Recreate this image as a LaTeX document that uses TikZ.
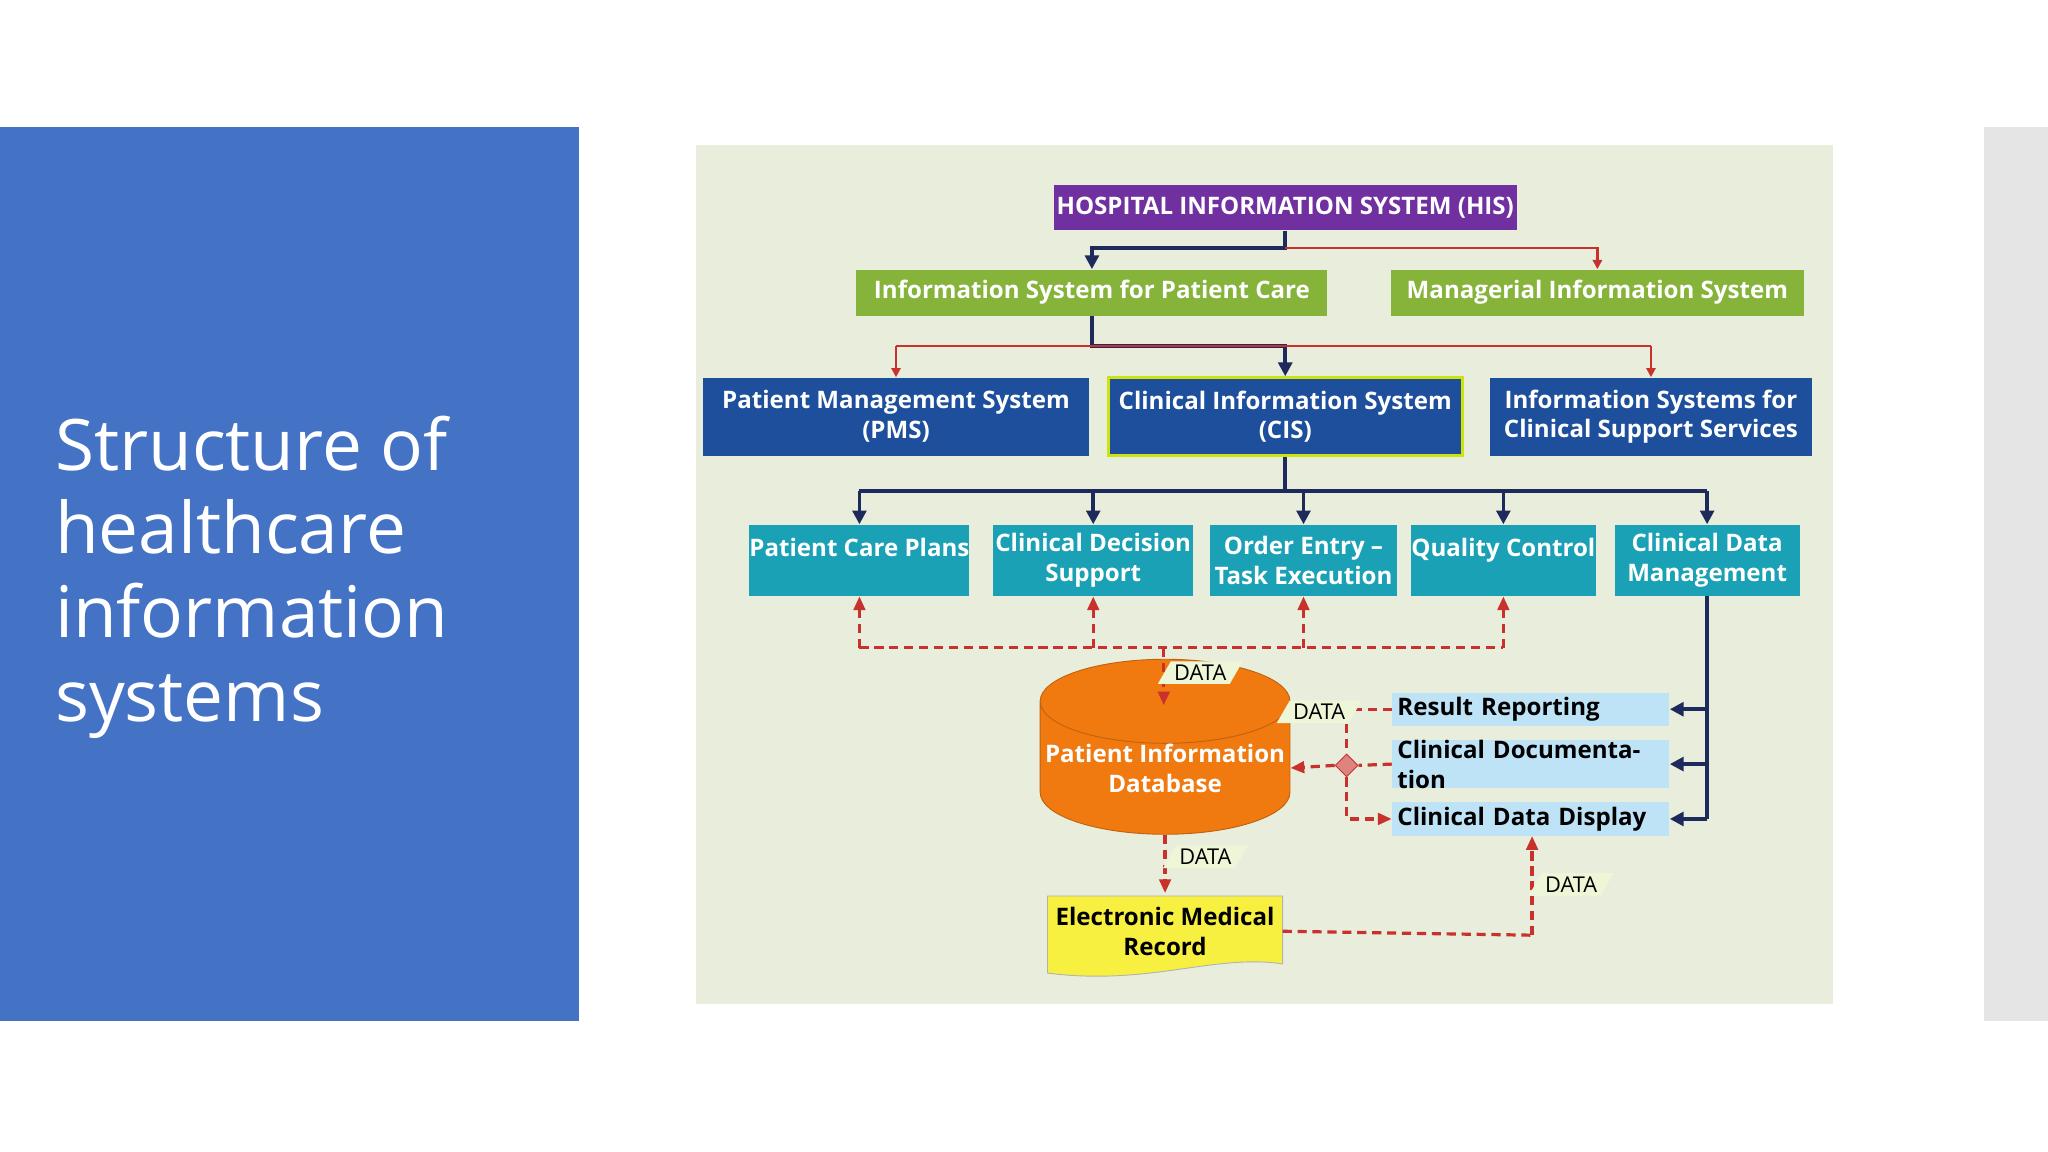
\documentclass[tikz,border=0pt]{standalone}
\usepackage{fontspec}
\setmainfont{Open Sans}
\usetikzlibrary{shapes.geometric,arrows.meta}
\definecolor{panel}{HTML}{4472C4}
\definecolor{diagbg}{HTML}{E8EEDB}
\definecolor{hispurple}{HTML}{7030A0}
\definecolor{isgreen}{HTML}{86B33A}
\definecolor{sysblue}{HTML}{1D4F9C}
\definecolor{modteal}{HTML}{1BA1B5}
\definecolor{outblue}{HTML}{BEE2F6}
\definecolor{navyln}{HTML}{1F2A5C}
\definecolor{redln}{HTML}{C8312C}
\definecolor{dborange}{HTML}{F07A10}
\definecolor{emryellow}{HTML}{F8F040}
\definecolor{datagreen}{HTML}{EEF6D8}
\tikzset{
  box/.style={draw=none,minimum width=#1,minimum height=0,inner sep=0pt,text=white,
    font=\fontsize{10.5}{13}\selectfont\bfseries,align=center},
  his/.style={box=#1,fill=hispurple,minimum height=19.5},
  isb/.style={box=#1,fill=isgreen,minimum height=20},
  sys/.style={box=#1,fill=sysblue,minimum height=34},
  mod/.style={box=#1,fill=modteal,minimum height=31},
  out/.style={box=#1,fill=outblue,text=black,minimum height=14.5},
  blk/.style={navyln,line width=1.6pt,-{Triangle[length=6pt,width=6pt]}},
  blkn/.style={navyln,line width=1.6pt},
  rd/.style={redln,line width=1pt,-{Triangle[length=4pt,width=4pt]}},
  rdn/.style={redln,line width=1pt},
  rdd/.style={redln,line width=1.4pt,dashed,dash pattern=on 4pt off 2.5pt},
  rda/.style={rdd,-{Triangle[length=6pt,width=5pt]}},
  datal/.style={trapezium,trapezium left angle=60,trapezium right angle=120,fill=datagreen,
    inner sep=1.5pt,font=\fontsize{9.5}{11}\selectfont,text=black}
}
\begin{document}
\begin{tikzpicture}[x=0.02cm,y=-0.02cm]
\useasboundingbox (0,0) rectangle (1568,882);
\fill[white] (0,0) rectangle (1568,882);
\fill[panel] (0,97) rectangle (443,782);
\fill[black!10] (1519,97) rectangle (1568,782);
\node[anchor=north west,text=white,align=left,font=\fontsize{31}{36.5}\selectfont] (title) at (36,312)
  {Structure of\\healthcare\\information\\systems};
\fill[diagbg] (533,111) rectangle (1403,769);

% boxes
\node[his=356*0.567pt] (his) at (984,159) {HOSPITAL INFORMATION SYSTEM (HIS)};
\node[isb=362*0.567pt] (ispc) at (836,224) {Information System for Patient Care};
\node[isb=317*0.567pt] (mis) at (1223,224) {Managerial Information System};
\node[sys=297*0.567pt] (pms) at (686,319) {Patient Management System\\(PMS)};
\node[sys=272*0.567pt,draw=yellow!80!green,line width=1.2pt] (cis) at (984,319) {Clinical Information System\\(CIS)};
\node[sys=248*0.567pt] (icss) at (1264,319) {Information Systems for\\Clinical Support Services};
\node[mod=167*0.567pt] (pcp) at (658,429) {Patient Care Plans\\[-2pt]\phantom{X}};
\node[mod=154*0.567pt] (cds) at (837,429) {Clinical Decision\\Support};
\node[mod=144*0.567pt] (oe) at (998,429) {Order Entry --\\Task Execution};
\node[mod=142*0.567pt] (qc) at (1151,429) {Quality Control\\[-2pt]\phantom{X}};
\node[mod=142*0.567pt] (cdm) at (1307,429) {Clinical Data\\Management};
\node[out=213*0.567pt,align=left,text width=205*0.567pt] (rr) at (1172,543) {Result Reporting};
\node[out=213*0.567pt,align=left,text width=205*0.567pt] (cdoc) at (1172,585) {Clinical Documentation};
\node[out=213*0.567pt,align=left,text width=205*0.567pt] (cdd) at (1172,627) {Clinical Data Display};
\node[cylinder,shape border rotate=90,aspect=0.35,minimum width=192*0.567pt,minimum height=96*0.567pt,
  fill=dborange,draw=dborange!80!black,text=white,font=\fontsize{10.5}{13}\selectfont\bfseries,align=center,inner sep=0pt]
  (db) at (892,588) {Patient Information\\Database};
\fill[emryellow,draw=black!30] (802,686) -- (982,686) -- (982,738) .. controls (930,730) and (880,755) .. (802,745) -- cycle;
\node[font=\fontsize{10.5}{13}\selectfont\bfseries,align=center,inner sep=0pt,minimum width=180*0.567pt,minimum height=58*0.567pt]
  (emr) at (892,713) {Electronic Medical\\Record};
\node[diamond,fill=redln!60,draw=redln,inner sep=2.5pt] (dia) at (1031,586) {};

% solid connectors
\coordinate (j1) at (984,190);
\draw[blk] (his.south) -- (j1) -| (ispc.north);
\draw[rd] (j1) -| (mis.north);
\coordinate (j2) at (836,265);
\draw[blkn] (ispc.south) -- (j2) -| (984,280);
\draw[blk] (984,280) -- (cis.north);
\draw[rdn] (pms.north |- j2) -- (icss.north |- j2);
\draw[rd] (pms.north |- j2) -- (pms.north);
\draw[rd] (icss.north |- j2) -- (icss.north);
\coordinate (j3) at (984,376);
\draw[blkn] (cis.south) -- (j3);
\draw[blkn] (pcp.north |- j3) -- (cdm.north |- j3);
\foreach \n in {pcp,cds,oe,qc,cdm} \draw[blk] (\n.north |- j3) -- (\n.north);
\draw[blkn] (cdm.south) -- (1307,627);
\foreach \n in {rr,cdoc,cdd} \draw[blk] (1307,0 |- \n.east) -- (\n.east);

% dashed data connectors
\coordinate (j4) at (891,496);
\draw[rdd] (pcp.south |- j4) -- (qc.south |- j4);
\foreach \n in {pcp,cds,oe,qc} \draw[rda] (\n.south |- j4) -- (\n.south);
\draw[rda] (j4) -- (891,540);
\node[datal,anchor=west] (d1) at (891,515) {DATA};
\draw[rdd] (rr.west) -- (1031,543) -- (dia.north);
\draw[rdd] (cdoc.west) -- (dia.east);
\draw[rda] (dia.west) -- (db.east);
\draw[rda] (dia.south) |- (cdd.west);
\node[datal] (d2) at (1010,545) {DATA};
\draw[rda] (db.south) -- (emr.north);
\node[datal,anchor=west] (d3) at (895,656) {DATA};
\draw[rdd] (emr.east) -- (1173,716);
\draw[rda] (1173,716) -- (1173,0 |- cdd.south);
\node[datal,anchor=west] (d4) at (1175,677) {DATA};
\end{tikzpicture}
\end{document}
